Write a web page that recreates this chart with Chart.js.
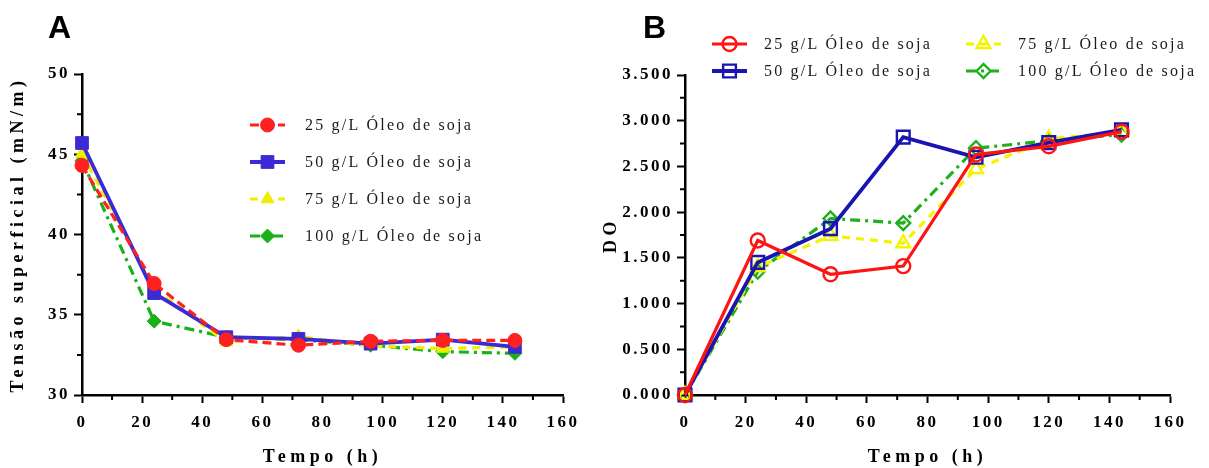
<!DOCTYPE html>
<html>
<head>
<meta charset="utf-8">
<script src="https://cdn.jsdelivr.net/npm/chart.js@4/dist/chart.umd.min.js"></script>
<style>
  body { margin: 0; background: #fff; }
  .wrap { display: flex; width: 1209px; height: 468px; }
  canvas { display: block; }
</style>
</head>
<body>
<div class="wrap">
  <canvas id="chartA" width="600" height="468"></canvas>
  <canvas id="chartB" width="609" height="468"></canvas>
</div>
<script>
// sampling times (h)
const hours = [0, 24, 48, 72, 96, 120, 144];
const seriesLabels = [
  "25 g/L Óleo de soja",
  "50 g/L Óleo de soja",
  "75 g/L Óleo de soja",
  "100 g/L Óleo de soja",
];

// surface tension, mN/m
const tensao25 = [44.3, 36.95, 33.45, 33.1, 33.35, 33.4, 33.4];
const tensao50 = [45.7, 36.35, 33.6, 33.5, 33.2, 33.45, 33.0];
const tensao75 = [45.05, 36.6, 33.3, 33.65, 33.05, 32.9, 33.0];
const tensao100 = [44.6, 34.6, 33.6, 33.45, 33.1, 32.7, 32.6];

// optical density
const do25 = [0, 1.69, 1.32, 1.41, 2.63, 2.72, 2.88];
const do50 = [0, 1.45, 1.82, 2.82, 2.6, 2.76, 2.9];
const do75 = [0, 1.4, 1.74, 1.66, 2.47, 2.8, 2.88];
const do100 = [0, 1.35, 1.93, 1.88, 2.7, 2.78, 2.85];

const xTicks = { min: 0, max: 160, step: 20 };
const yTicksA = { min: 30, max: 50, step: 5 };
const yTicksB = { min: 0, max: 3.5, step: 0.5 };

const toPoints = (vals) => vals.map((v, i) => ({ x: hours[i], y: v }));

const serif = "'Liberation Serif', 'Times New Roman', serif";

// half-length ticks between the labelled ones
const minorTicks = {
  id: "minorTicks",
  afterDraw(chart) {
    const ctx = chart.ctx;
    const { x, y } = chart.scales;
    const area = chart.chartArea;
    ctx.save();
    ctx.strokeStyle = "#000";
    ctx.lineWidth = 2;
    ctx.beginPath();
    for (let i = 0; i < x.ticks.length - 1; i++) {
      const px = x.getPixelForValue((x.ticks[i].value + x.ticks[i + 1].value) / 2);
      ctx.moveTo(px, area.bottom);
      ctx.lineTo(px, area.bottom + 5);
    }
    for (let i = 0; i < y.ticks.length - 1; i++) {
      const py = y.getPixelForValue((y.ticks[i].value + y.ticks[i + 1].value) / 2);
      ctx.moveTo(area.left, py);
      ctx.lineTo(area.left - 5, py);
    }
    ctx.stroke();
    ctx.restore();
  },
};

// spaced-out lettering for ticks and axis titles
const spacedText = {
  id: "spacedText",
  beforeUpdate(chart) {
    chart.ctx.letterSpacing = "2.5px";
  },
  beforeDraw(chart) {
    chart.ctx.letterSpacing = "2.5px";
    Object.values(chart.scales).forEach((s) => {
      if (s._spaced) return;
      const drawTitle = s.drawTitle;
      s.drawTitle = function () {
        const c = this.ctx;
        c.save();
        c.letterSpacing = "4.5px";
        drawTitle.apply(this, arguments);
        c.restore();
      };
      s._spaced = true;
    });
  },
};

// panel letter plus line/marker legend
const panelLegend = {
  id: "panelLegend",
  afterDraw(chart, args, opts) {
    const ctx = chart.ctx;
    ctx.save();
    ctx.letterSpacing = "0px";
    ctx.fillStyle = "#000";
    ctx.font = "bold 32px 'Liberation Sans', Arial, sans-serif";
    ctx.textBaseline = "alphabetic";
    ctx.fillText(opts.letter, opts.letterX, 38);
    ctx.restore();

    chart.data.datasets.forEach((ds, i) => {
      const pos = opts.items[i];
      ctx.save();
      ctx.strokeStyle = ds.borderColor;
      ctx.lineWidth = ds.borderWidth;
      ctx.setLineDash(ds.borderDash || []);
      ctx.beginPath();
      ctx.moveTo(pos.x, pos.y);
      ctx.lineTo(pos.x + opts.lineLen, pos.y);
      ctx.stroke();
      ctx.setLineDash([]);
      ctx.fillStyle = ds.pointBackgroundColor;
      ctx.strokeStyle = ds.pointBorderColor;
      ctx.lineWidth = ds.pointBorderWidth;
      Chart.helpers.drawPoint(
        ctx,
        { pointStyle: ds.pointStyle, radius: ds.pointRadius, borderWidth: ds.pointBorderWidth, rotation: 0 },
        pos.x + opts.lineLen / 2,
        pos.y
      );
      ctx.fillStyle = "#1a1a1a";
      ctx.font = "16px " + serif;
      ctx.letterSpacing = "2.2px";
      ctx.textBaseline = "middle";
      ctx.textAlign = "left";
      ctx.fillText(ds.label, pos.x + opts.textGap, pos.y + 1);
      ctx.restore();
    });
  },
};

function lineSet(label, vals, color, width, dash, style, radius, open) {
  return {
    label: label,
    data: toPoints(vals),
    borderColor: color,
    borderWidth: width,
    borderDash: dash,
    pointStyle: style,
    pointRadius: radius,
    pointHoverRadius: radius,
    pointBackgroundColor: open ? "rgba(0,0,0,0)" : color,
    pointBorderColor: color,
    pointBorderWidth: open ? 2.4 : 1,
    fill: false,
    clip: false,
  };
}

function axes(yt, yTitle, yTitlePad, yWidth, yFormat) {
  const grid = { drawOnChartArea: false, drawTicks: true, tickLength: 8, tickWidth: 2, tickColor: "#000" };
  const border = { display: true, width: 2.5, color: "#000" };
  const tickFont = { family: serif, size: 17, weight: "bold" };
  const titleFont = { family: serif, size: 18, weight: "bold" };
  return {
    x: {
      type: "linear",
      min: xTicks.min,
      max: xTicks.max,
      grid: grid,
      border: border,
      ticks: { stepSize: xTicks.step, color: "#000", font: tickFont, padding: 9, maxRotation: 0 },
      title: { display: true, text: "Tempo (h)", color: "#000", font: titleFont, padding: { top: 0, bottom: 0 } },
      afterFit: (s) => { s.height = 73; },
    },
    y: {
      type: "linear",
      min: yt.min,
      max: yt.max,
      grid: grid,
      border: border,
      ticks: { stepSize: yt.step, color: "#000", font: tickFont, padding: 4, callback: yFormat },
      title: { display: true, text: yTitle, color: "#000", font: titleFont, padding: { top: yTitlePad, bottom: 0 } },
      afterFit: (s) => { s.width = yWidth; },
    },
  };
}

new Chart(document.getElementById("chartA"), {
  type: "line",
  data: {
    datasets: [
      lineSet(seriesLabels[0], tensao25, "#ff2020", 3.2, [9, 5], "circle", 7, false),
      lineSet(seriesLabels[1], tensao50, "#3c2bd4", 3.8, [], "rect", 9, false),
      lineSet(seriesLabels[2], tensao75, "#eeee00", 3.2, [8, 6], "triangle", 7.5, false),
      lineSet(seriesLabels[3], tensao100, "#19b019", 3.2, [10, 5, 3, 5], "rectRot", 7, false),
    ],
  },
  options: {
    responsive: false,
    animation: false,
    layout: { padding: { left: 0, top: 74, right: 37, bottom: 0 } },
    scales: axes(yTicksA, "Tensão superficial (mN/m)", 8, 82, (v) => v),
    plugins: {
      legend: { display: false },
      tooltip: { enabled: false },
      panelLegend: {
        letter: "A",
        letterX: 48,
        lineLen: 35,
        textGap: 55,
        items: [
          { x: 250, y: 125 },
          { x: 250, y: 162 },
          { x: 250, y: 199 },
          { x: 250, y: 236 },
        ],
      },
    },
  },
  plugins: [spacedText, minorTicks, panelLegend],
});

new Chart(document.getElementById("chartB"), {
  type: "line",
  data: {
    datasets: [
      lineSet(seriesLabels[0], do25, "#ff1414", 3.2, [], "circle", 7, true),
      lineSet(seriesLabels[1], do50, "#1a14b0", 3.8, [], "rect", 9, true),
      lineSet(seriesLabels[2], do75, "#f4f400", 3.2, [8, 6], "triangle", 8, true),
      lineSet(seriesLabels[3], do100, "#1eb01e", 3.2, [10, 5, 3, 5], "rectRot", 7, true),
    ],
  },
  options: {
    responsive: false,
    animation: false,
    layout: { padding: { left: 0, top: 75, right: 39, bottom: 0 } },
    scales: axes(yTicksB, "DO", 1, 85, (v) => v.toFixed(3)),
    plugins: {
      legend: { display: false },
      tooltip: { enabled: false },
      panelLegend: {
        letter: "B",
        letterX: 43,
        lineLen: 35,
        textGap: 52,
        items: [
          { x: 112, y: 44 },
          { x: 112, y: 71 },
          { x: 366, y: 44 },
          { x: 366, y: 71 },
        ],
      },
    },
  },
  plugins: [spacedText, minorTicks, panelLegend],
});
</script>
</body>
</html>
